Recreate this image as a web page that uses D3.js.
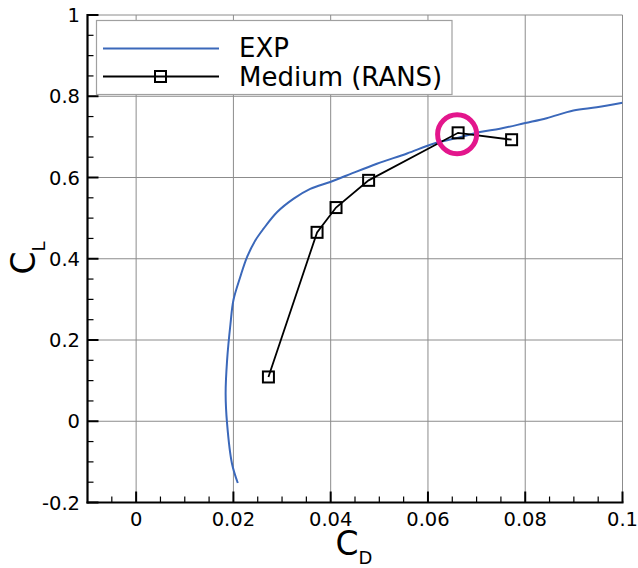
<!DOCTYPE html>
<html>
<head>
<meta charset="utf-8">
<script src="https://cdn.jsdelivr.net/npm/d3@7"></script>
<style>
  html, body { margin: 0; padding: 0; background: #fff; }
  svg { display: block; font-family: "DejaVu Sans", Verdana, sans-serif; }
</style>
</head>
<body>
<svg id="chart" width="638" height="568"></svg>
<script>
// Experimental polar (drag vs lift)
const expCd = [0.0209, 0.0197, 0.0187, 0.0184, 0.0187, 0.0194, 0.0200, 0.0214, 0.0228, 0.0245,
               0.0262, 0.0290, 0.0324, 0.0358, 0.0399, 0.0433, 0.0495, 0.0557, 0.0611, 0.0666,
               0.0707, 0.0748, 0.0800, 0.0844, 0.0899, 0.0947, 0.1000];
const expCl = [-0.152, -0.104, -0.006, 0.068, 0.150, 0.240, 0.298, 0.355, 0.404, 0.445,
               0.474, 0.515, 0.548, 0.572, 0.589, 0.605, 0.634, 0.659, 0.683, 0.699,
               0.712, 0.720, 0.734, 0.746, 0.765, 0.773, 0.784];

// Medium grid RANS results
const ransCd = [0.0272, 0.0372, 0.0411, 0.0478, 0.0662, 0.0772];
const ransCl = [0.109, 0.465, 0.526, 0.593, 0.710, 0.693];

// Highlighted RANS point (index into the RANS arrays)
const highlightIndex = 4;

const seriesNames = ["EXP", "Medium (RANS)"];
const xTickValues = [0, 0.02, 0.04, 0.06, 0.08, 0.1];
const xTickLabels = ["0", "0.02", "0.04", "0.06", "0.08", "0.1"];
const yTickValues = [-0.2, 0, 0.2, 0.4, 0.6, 0.8, 1];
const yTickLabels = ["-0.2", "0", "0.2", "0.4", "0.6", "0.8", "1"];

const svg = d3.select("#chart");
const plot = { left: 87.5, right: 622.5, top: 15, bottom: 502.5 };

const x = d3.scaleLinear().domain([-0.01, 0.1]).range([plot.left, plot.right]);
const y = d3.scaleLinear().domain([-0.2, 1]).range([plot.bottom, plot.top]);

const gridColor = "#8c8c8c";

// Grid lines
const grid = svg.append("g");
grid.selectAll("line.gx").data(xTickValues).join("line")
  .attr("x1", d => x(d)).attr("x2", d => x(d))
  .attr("y1", plot.top).attr("y2", plot.bottom)
  .attr("stroke", gridColor).attr("stroke-width", 1);
grid.selectAll("line.gy").data(yTickValues).join("line")
  .attr("x1", plot.left).attr("x2", plot.right)
  .attr("y1", d => y(d)).attr("y2", d => y(d))
  .attr("stroke", gridColor).attr("stroke-width", 1);

// Minor ticks (inward)
const xMinor = d3.range(-0.005, 0.1001, 0.005).filter(v => Math.abs(v / 0.02 - Math.round(v / 0.02)) > 1e-6);
const yMinor = d3.range(-0.15, 1.0001, 0.05).filter(v => Math.abs(v / 0.2 - Math.round(v / 0.2)) > 1e-6);
const ticks = svg.append("g").attr("stroke", "#000").attr("stroke-width", 1.2);
ticks.selectAll("line.mx").data(xMinor).join("line")
  .attr("x1", d => x(d)).attr("x2", d => x(d))
  .attr("y1", plot.bottom).attr("y2", plot.bottom - 6);
ticks.selectAll("line.my").data(yMinor).join("line")
  .attr("x1", plot.left).attr("x2", plot.left + 6)
  .attr("y1", d => y(d)).attr("y2", d => y(d));

// Major ticks
const majors = svg.append("g").attr("stroke", "#000").attr("stroke-width", 2);
majors.selectAll("line.Mx").data(xTickValues).join("line")
  .attr("x1", d => x(d)).attr("x2", d => x(d))
  .attr("y1", plot.bottom).attr("y2", plot.bottom - 11);
majors.selectAll("line.My").data(yTickValues).join("line")
  .attr("x1", plot.left).attr("x2", plot.left + 11)
  .attr("y1", d => y(d)).attr("y2", d => y(d));

// Axis lines
svg.append("line").attr("x1", plot.left).attr("x2", plot.left)
  .attr("y1", plot.top - 1).attr("y2", plot.bottom + 1)
  .attr("stroke", "#000").attr("stroke-width", 2.2);
svg.append("line").attr("x1", plot.left - 1).attr("x2", plot.right + 1)
  .attr("y1", plot.bottom).attr("y2", plot.bottom)
  .attr("stroke", "#000").attr("stroke-width", 2.2);

// Tick labels
svg.append("g").selectAll("text").data(xTickValues).join("text")
  .attr("x", d => x(d)).attr("y", 525.5)
  .attr("text-anchor", "middle").attr("font-size", 19.5).attr("fill", "#000")
  .text((d, i) => xTickLabels[i]);
svg.append("g").selectAll("text").data(yTickValues).join("text")
  .attr("x", 80).attr("y", d => y(d) + 7)
  .attr("text-anchor", "end").attr("font-size", 19.5).attr("fill", "#000")
  .text((d, i) => yTickLabels[i]);

// Axis titles
const xTitle = svg.append("text").attr("x", 354).attr("y", 555)
  .attr("text-anchor", "middle").attr("font-size", 33).attr("fill", "#000");
xTitle.append("tspan").text("C");
xTitle.append("tspan").attr("font-size", 18).attr("dy", 8.5).text("D");

const yTitle = svg.append("text")
  .attr("transform", "translate(35,258) rotate(-90)")
  .attr("text-anchor", "middle").attr("font-size", 33).attr("fill", "#000");
yTitle.append("tspan").text("C");
yTitle.append("tspan").attr("font-size", 18).attr("dy", 9.5).text("L");

// Clip for data curves
svg.append("clipPath").attr("id", "plotClip").append("rect")
  .attr("x", plot.left).attr("y", plot.top)
  .attr("width", plot.right - plot.left).attr("height", plot.bottom - plot.top);

// EXP curve
const expPts = expCd.map((d, i) => [d, expCl[i]]);
const smooth = d3.line().x(d => x(d[0])).y(d => y(d[1])).curve(d3.curveCatmullRom.alpha(0.5));
svg.append("path").datum(expPts)
  .attr("clip-path", "url(#plotClip)")
  .attr("d", smooth)
  .attr("fill", "none").attr("stroke", "#3b68ba").attr("stroke-width", 2);

// RANS line and markers
const ransPts = ransCd.map((d, i) => [d, ransCl[i]]);
const straight = d3.line().x(d => x(d[0])).y(d => y(d[1]));
svg.append("path").datum(ransPts)
  .attr("d", straight)
  .attr("fill", "none").attr("stroke", "#000").attr("stroke-width", 1.8);
svg.append("g").selectAll("rect").data(ransPts).join("rect")
  .attr("x", d => x(d[0]) - 5.5).attr("y", d => y(d[1]) - 5.5)
  .attr("width", 11).attr("height", 11)
  .attr("fill", "none").attr("stroke", "#000").attr("stroke-width", 2);

// Highlight ring
const hp = ransPts[highlightIndex];
svg.append("circle")
  .attr("cx", x(hp[0]) - 1).attr("cy", y(hp[1]) + 1.5).attr("r", 19.5)
  .attr("fill", "none").attr("stroke", "#e3168c").attr("stroke-width", 5);

// Legend
const legend = svg.append("g");
legend.append("rect").attr("x", 96.5).attr("y", 20.5).attr("width", 355.5).attr("height", 74)
  .attr("fill", "#fff").attr("stroke", "#a0a0a0").attr("stroke-width", 1.2);
legend.append("line").attr("x1", 103).attr("x2", 219).attr("y1", 48.5).attr("y2", 48.5)
  .attr("stroke", "#3b68ba").attr("stroke-width", 2);
legend.append("line").attr("x1", 103).attr("x2", 219).attr("y1", 76.5).attr("y2", 76.5)
  .attr("stroke", "#000").attr("stroke-width", 1.8);
legend.append("rect").attr("x", 160.5 - 5.5).attr("y", 76.5 - 5.5).attr("width", 11).attr("height", 11)
  .attr("fill", "none").attr("stroke", "#000").attr("stroke-width", 2);
legend.selectAll("text").data(seriesNames).join("text")
  .attr("x", 239).attr("y", (d, i) => 57 + i * 28.5)
  .attr("font-size", 26).attr("fill", "#000")
  .text(d => d);
</script>
</body>
</html>
